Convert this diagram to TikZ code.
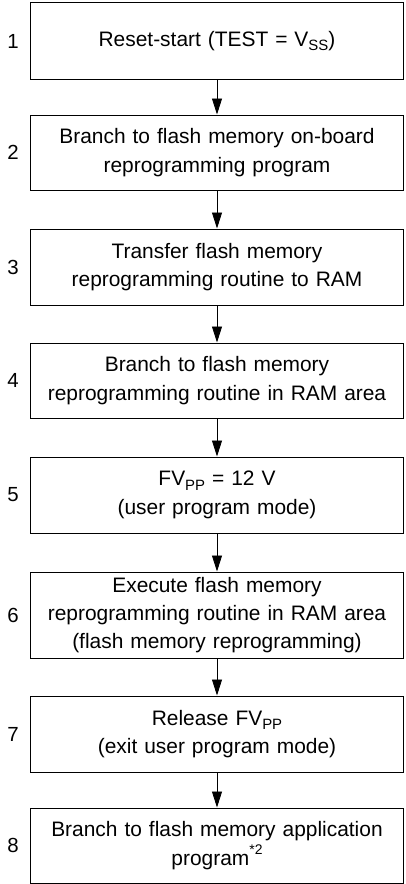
\documentclass[tikz,border=0pt]{standalone}
\usepackage{fontspec}
\setmainfont{Liberation Sans}
\usetikzlibrary{arrows.meta}
\newcommand{\subtx}[1]{\raisebox{-0.22em}{\fontsize{15}{15}\selectfont #1}}
\newcommand{\suptx}[1]{\raisebox{0.5em}{\fontsize{14}{14}\selectfont #1}}
\begin{document}
\begin{tikzpicture}[x=1bp,y=-1bp,
  stepbox/.style={draw=black,line width=1bp,minimum width=372bp,inner sep=0pt,
    text width=364bp,align=center,font=\fontsize{21}{28.5}\selectfont},
  numlab/.style={font=\fontsize{20.5}{24}\selectfont,inner sep=0pt},
  flow/.style={draw=black,line width=0.8bp,-{Triangle[width=10bp,length=16bp]}}]
\useasboundingbox (0,0) rectangle (405,884);
\node[stepbox,minimum height=76bp] (b1) at (217,41) {Reset-start (TEST = V\subtx{SS})};
\node[stepbox,minimum height=75bp] (b2) at (217,152.5) {Branch to flash memory on-board\\reprogramming program};
\node[stepbox,minimum height=76bp] (b3) at (217,267) {Transfer flash memory\\reprogramming routine to RAM};
\node[stepbox,minimum height=75bp] (b4) at (217,380.5) {Branch to flash memory\\reprogramming routine in RAM area};
\node[stepbox,minimum height=76bp] (b5) at (217,495) {FV\subtx{PP} = 12 V\\(user program mode)};
\node[stepbox,minimum height=86bp] (b6) at (217,615) {Execute flash memory\\reprogramming routine in RAM area\\(flash memory reprogramming)};
\node[stepbox,minimum height=76bp] (b7) at (217,734) {Release FV\subtx{PP}\\(exit user program mode)};
\node[stepbox,minimum height=75bp] (b8) at (217,845.5) {Branch to flash memory application\\program\suptx{*2}};
\node[numlab] (n1) at (13,41) {1};
\node[numlab] (n2) at (13,152.5) {2};
\node[numlab] (n3) at (13,267) {3};
\node[numlab] (n4) at (13,380.5) {4};
\node[numlab] (n5) at (13,495) {5};
\node[numlab] (n6) at (13,615) {6};
\node[numlab] (n7) at (13,734) {7};
\node[numlab] (n8) at (13,845.5) {8};
\foreach \a/\b in {b1/b2,b2/b3,b3/b4,b4/b5,b5/b6,b6/b7,b7/b8}
  \draw[flow] (\a.south) -- (\b.north);
\end{tikzpicture}
\end{document}
